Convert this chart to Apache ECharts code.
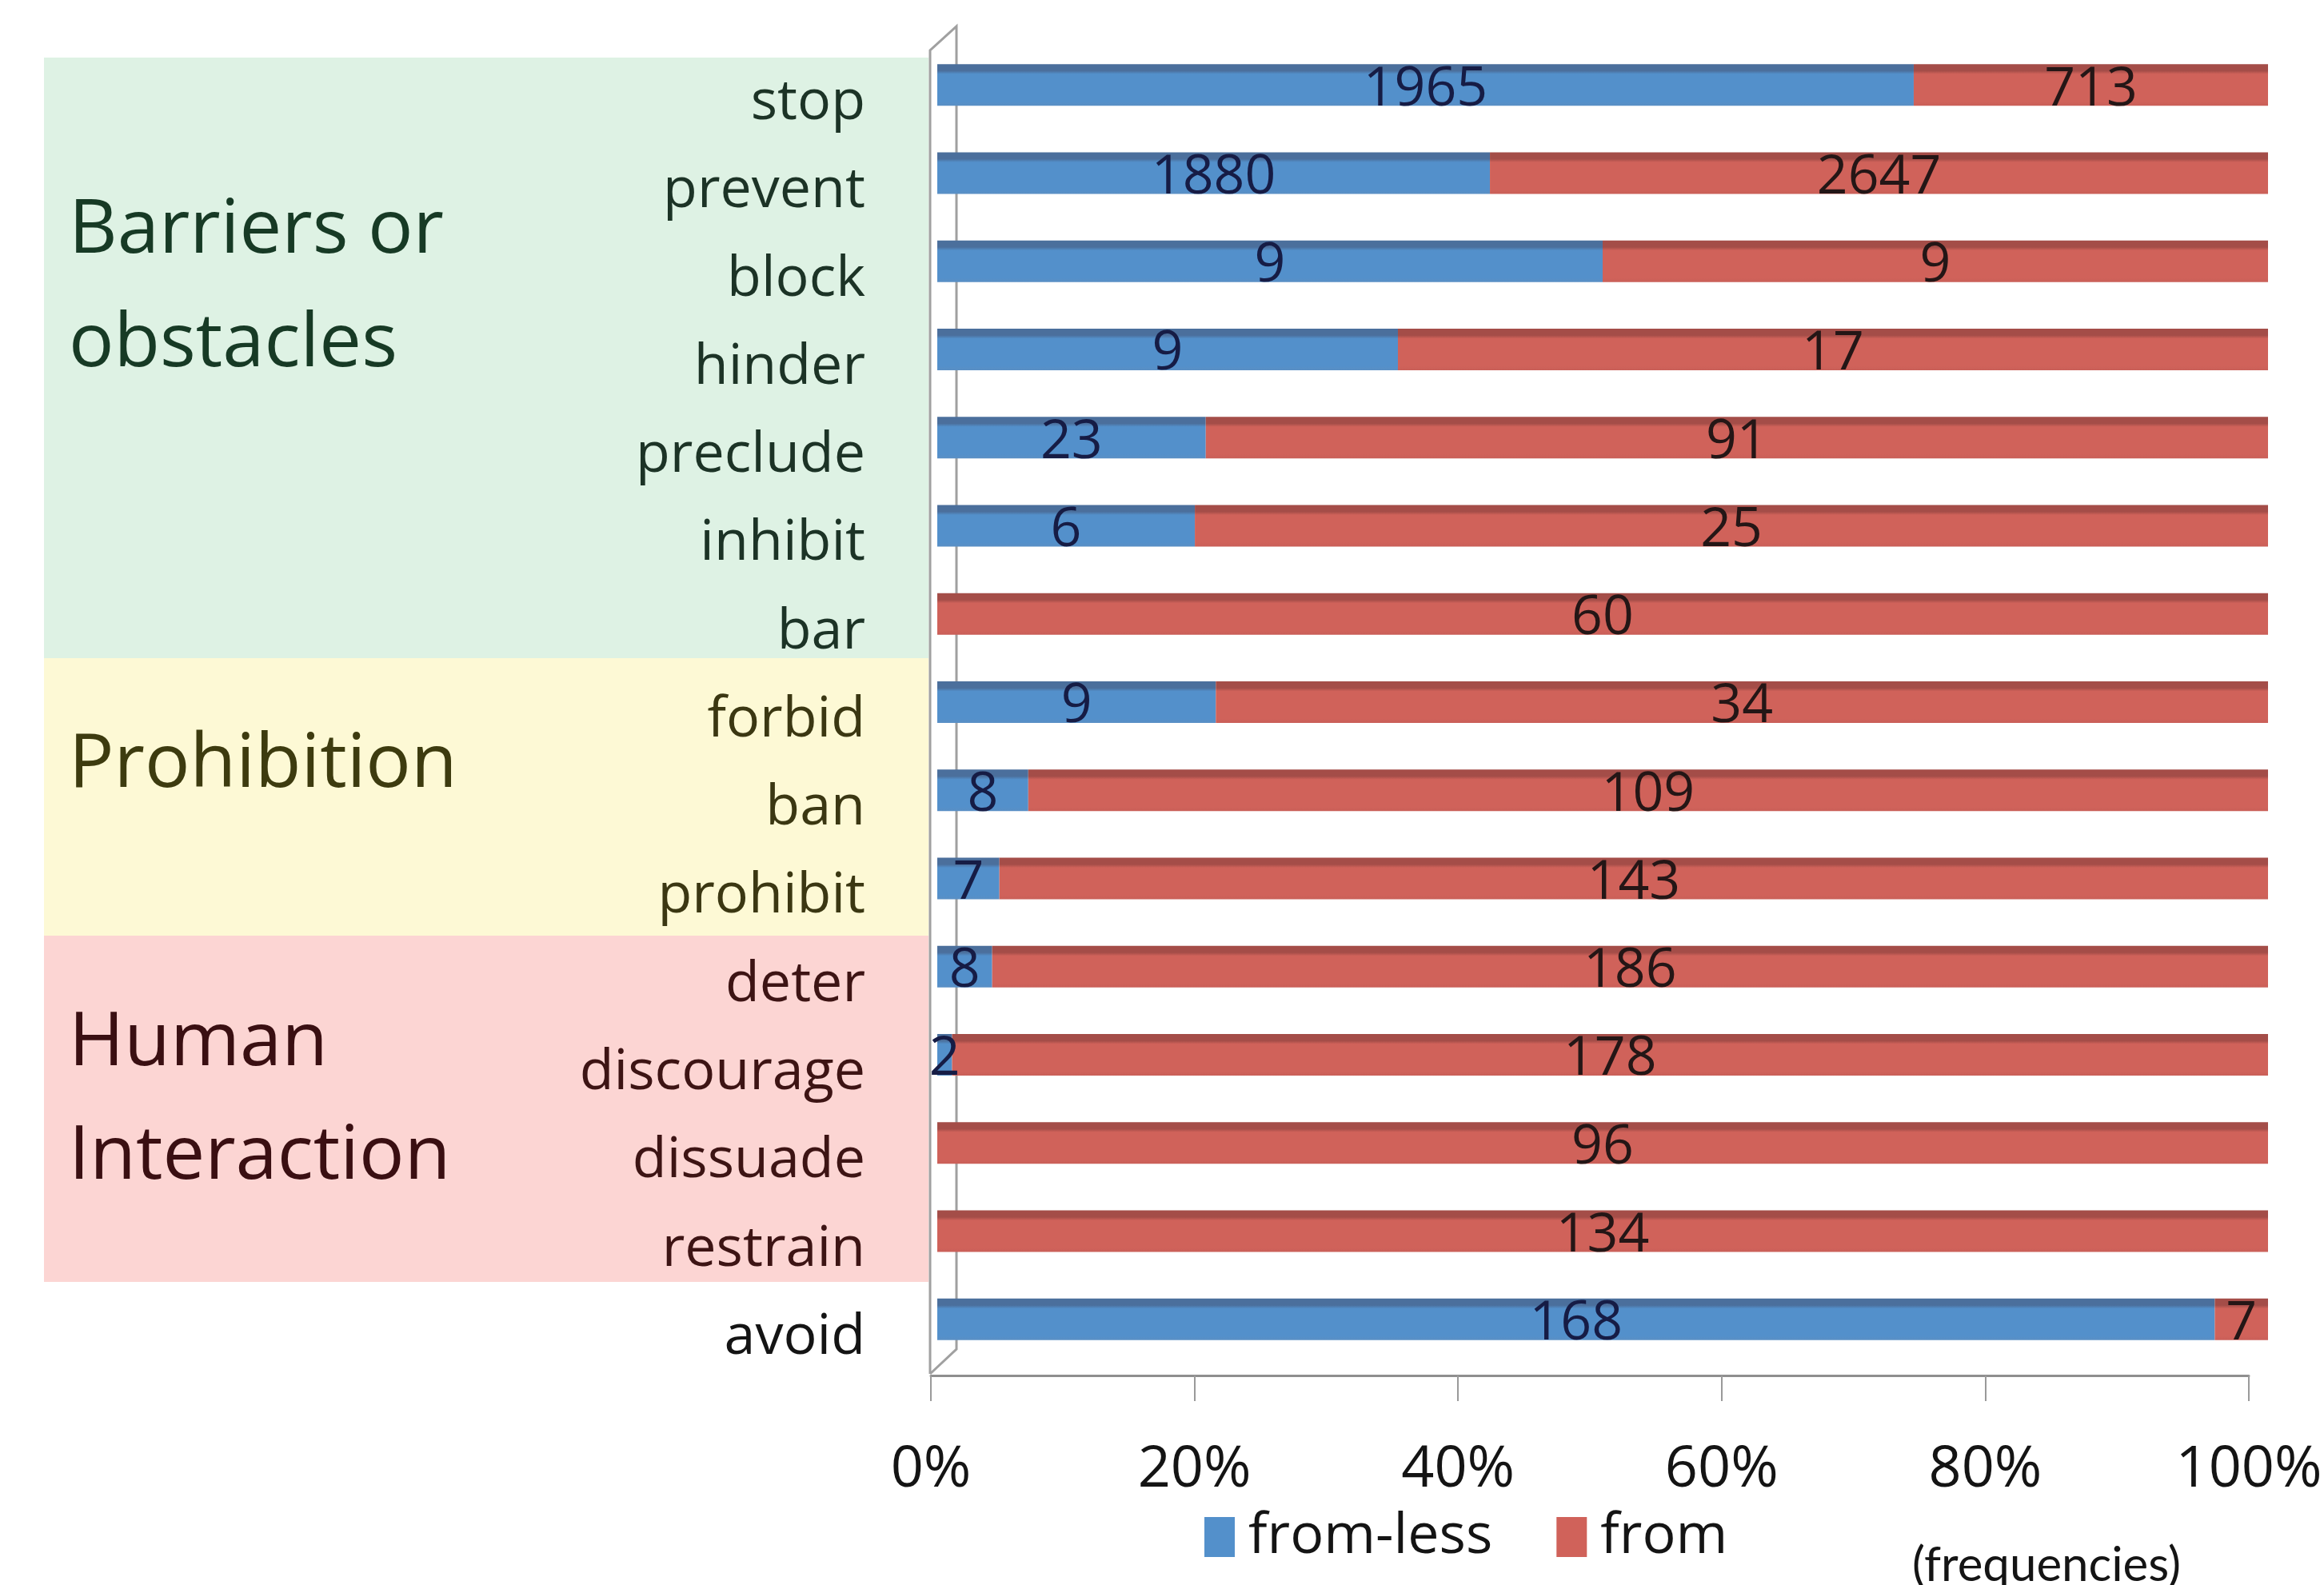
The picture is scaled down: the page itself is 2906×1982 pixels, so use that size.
<!DOCTYPE html>
<html>
<head>
<meta charset="utf-8">
<script src="https://cdn.jsdelivr.net/npm/echarts@6/dist/echarts.min.js"></script>
<style>
  html, body { margin: 0; padding: 0; background: #fff; }
  #main { width: 2906px; height: 1982px; }
</style>
</head>
<body>
<div id="main"></div>
<script>
  // verbs, top to bottom
  var categories = ['stop', 'prevent', 'block', 'hinder', 'preclude', 'inhibit', 'bar',
    'forbid', 'ban', 'prohibit', 'deter', 'discourage', 'dissuade', 'restrain', 'avoid'];
  // frequencies
  var fromLess = [1965, 1880, 9, 9, 23, 6, 0, 9, 8, 7, 8, 2, 0, 0, 168];
  var fromCounts = [713, 2647, 9, 17, 91, 25, 60, 34, 109, 143, 186, 178, 96, 134, 7];
  var xTicks = [0, 20, 40, 60, 80, 100];
  var seriesNames = ['from-less', 'from'];

  var FONT = '"Open Sans", "DejaVu Sans", sans-serif';

  // share of each row, stacked to 100%
  var lessPct = [], fromPct = [];
  for (var i = 0; i < categories.length; i++) {
    var total = fromLess[i] + fromCounts[i];
    lessPct.push(fromLess[i] / total * 100);
    fromPct.push(fromCounts[i] / total * 100);
  }

  function labelColor(value, index) {
    if (index <= 6) return '#1c3326';
    if (index <= 9) return '#3b3712';
    if (index <= 13) return '#3d1414';
    return '#141414';
  }

  function barGrad(top, main, bottom) {
    return new echarts.graphic.LinearGradient(0, 0, 0, 1, [
      { offset: 0, color: top },
      { offset: 0.16, color: top },
      { offset: 0.24, color: main },
      { offset: 0.9, color: main },
      { offset: 1, color: bottom }
    ]);
  }

  var chart = echarts.init(document.getElementById('main'));

  chart.setOption({
    backgroundColor: '#ffffff',
    animation: false,
    // grid 0 holds the bars (pushed back by the 3d depth), grid 1 the front floor scale
    grid: [
      { left: 1172, right: 70, top: 51, bottom: 277, outerBoundsMode: 'none' },
      { left: 1164, right: 94, top: 51, bottom: 277, outerBoundsMode: 'none' }
    ],
    legend: {
      left: 1501,
      top: 1882,
      itemWidth: 38,
      itemHeight: 50,
      itemGap: 80,
      icon: 'rect',
      textStyle: { fontFamily: FONT, fontSize: 70, color: '#141414', padding: [0, 0, 0, 12] },
      data: [
        { name: 'from-less', itemStyle: { color: '#5390cb' } },
        { name: 'from', itemStyle: { color: '#d0625a' } }
      ]
    },
    xAxis: [
      {
        gridIndex: 0,
        type: 'value',
        min: 0,
        max: 100,
        interval: 20,
        show: false
      },
      {
        gridIndex: 1,
        type: 'value',
        min: 0,
        max: 100,
        interval: 20,
        offset: 15,
        axisLine: { show: true, lineStyle: { color: '#8f8f8f', width: 3 } },
        axisTick: { show: true, length: 32, lineStyle: { color: '#9a9a9a', width: 2 } },
        splitLine: { show: false },
        axisLabel: {
          margin: 82,
          fontFamily: FONT,
          fontSize: 72,
          color: '#141414',
          formatter: function (v) { return xTicks.indexOf(v) >= 0 ? v + '%' : ''; }
        }
      }
    ],
    yAxis: [
      {
        gridIndex: 0,
        type: 'category',
        inverse: true,
        data: categories,
        axisLine: { show: false },
        axisTick: { show: false },
        axisLabel: {
          margin: 90,
          fontFamily: FONT,
          fontSize: 70,
          verticalAlign: 'top',
          lineHeight: 46,
          color: labelColor
        }
      },
      {
        gridIndex: 1,
        type: 'category',
        inverse: true,
        data: categories,
        show: false
      }
    ],
    series: [
      {
        name: seriesNames[0],
        type: 'bar',
        stack: 'total',
        barWidth: 52,
        data: lessPct,
        itemStyle: { color: barGrad('#4b6f9c', '#5390cb', '#5a8fc4') },
        label: {
          show: true,
          position: 'inside',
          offset: [0, 6],
          fontFamily: FONT,
          fontSize: 68,
          color: '#161c45',
          formatter: function (p) { return fromLess[p.dataIndex] > 0 ? String(fromLess[p.dataIndex]) : ''; }
        }
      },
      {
        name: seriesNames[1],
        type: 'bar',
        stack: 'total',
        barWidth: 52,
        data: fromPct,
        itemStyle: { color: barGrad('#a44d48', '#d0625a', '#c95f58') },
        label: {
          show: true,
          position: 'inside',
          offset: [0, 6],
          fontFamily: FONT,
          fontSize: 68,
          color: '#241616',
          formatter: function (p) { return String(fromCounts[p.dataIndex]); }
        }
      }
    ],
    graphic: [
      // group bands behind the verb labels
      { type: 'rect', z: -10, shape: { x: 55, y: 72, width: 1106, height: 751 }, style: { fill: '#def2e4' } },
      { type: 'rect', z: -10, shape: { x: 55, y: 823, width: 1106, height: 347 }, style: { fill: '#fdf9d5' } },
      { type: 'rect', z: -10, shape: { x: 55, y: 1170, width: 1106, height: 433 }, style: { fill: '#fcd5d3' } },
      // 3d wall edges
      { type: 'polyline', z: -5, shape: { points: [[1163, 1718], [1163, 63], [1196, 33], [1196, 1687], [1163, 1718]] },
        style: { stroke: '#a0a0a0', lineWidth: 3, fill: null } },
      // group titles
      { type: 'text', left: 86, top: 242, style: { text: 'Barriers or', font: '94px ' + FONT, fill: '#173a25' } },
      { type: 'text', left: 86, top: 384, style: { text: 'obstacles', font: '94px ' + FONT, fill: '#173a25' } },
      { type: 'text', left: 86, top: 910, style: { text: 'Prohibition', font: '94px ' + FONT, fill: '#3d3b0f' } },
      { type: 'text', left: 86, top: 1258, style: { text: 'Human', font: '94px ' + FONT, fill: '#3a0f12' } },
      { type: 'text', left: 86, top: 1400, style: { text: 'Interaction', font: '94px ' + FONT, fill: '#3a0f12' } },
      { type: 'text', left: 2391, top: 1928, style: { text: '(frequencies)', font: '60px Lato, "Open Sans", sans-serif', fill: '#141414' } }
    ]
  });
</script>
</body>
</html>
